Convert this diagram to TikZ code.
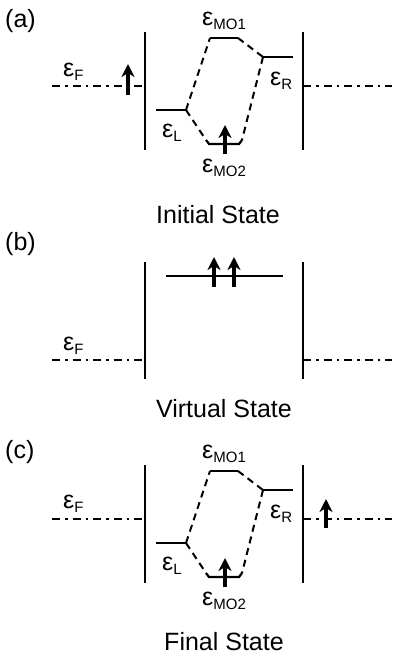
\documentclass[tikz,border=0pt]{standalone}
\usepackage{fontspec}
\setmainfont{Liberation Sans}
\usetikzlibrary{arrows.meta}
\newcommand{\elev}[1]{ε\raisebox{-4pt}{\fontsize{15}{15}\selectfont #1}}
\begin{document}
\begin{tikzpicture}[x=1pt,y=-1pt,
  wall/.style={line width=2.4pt},
  level/.style={line width=2.2pt},
  link/.style={line width=2pt, dash pattern=on 7pt off 5pt},
  fermi/.style={line width=1.8pt, dash pattern=on 8pt off 5pt on 2.5pt off 5pt},
  spin/.style={line width=3.4pt, -{Stealth[length=13pt,width=13pt,inset=4pt]}},
  elab/.style={anchor=base west, inner sep=0pt, font=\fontsize{25}{25}\selectfont},
  ttl/.style={anchor=base, inner sep=0pt, font=\fontsize{25}{25}\selectfont},
  tag/.style={anchor=base west, inner sep=0pt, font=\fontsize{25}{25}\selectfont},
]
\useasboundingbox (0,0) rectangle (392,664);

% ---------- panel (a) ----------
\node[tag] (aTag) at (5,27) {(a)};
\coordinate (aWLt) at (145,32); \coordinate (aWLb) at (145,150);
\coordinate (aWRt) at (303,32); \coordinate (aWRb) at (303,150);
\draw[wall] (aWLt) -- (aWLb);
\draw[wall] (aWRt) -- (aWRb);
\coordinate (aF0) at (52,86); \coordinate (aF1) at (145,86);
\coordinate (aF2) at (303,86); \coordinate (aF3) at (392,86);
\draw[fermi] (aF0) -- (aF1);
\draw[fermi] (aF2) -- (aF3);
\node[elab] (aEF) at (63,76) {\elev{F}};
\coordinate (aS0) at (128,95); \coordinate (aS1) at (128,64);
\draw[spin] (aS0) -- (aS1);
% levels
\coordinate (aLl) at (156,110); \coordinate (aLr) at (186,110);
\coordinate (aM1l) at (210,38); \coordinate (aM1r) at (238,38);
\coordinate (aRl) at (263,57); \coordinate (aRr) at (293,57);
\coordinate (aM2l) at (206,140); \coordinate (aM2r) at (242,140);
\draw[level] (aLl) -- (aLr);
\draw[level] (aM1l) -- (aM1r);
\draw[level] (aRl) -- (aRr);
\draw[level] (aM2l) -- (209,144) -- (239,144) -- (aM2r);
\draw[link] (aLr) -- (aM1l);
\draw[link] (aLr) -- (aM2l);
\draw[link] (aM1r) -- (aRl);
\draw[link] (aRl) -- (aM2r);
\coordinate (aT0) at (225,154); \coordinate (aT1) at (225,125);
\draw[spin] (aT0) -- (aT1);
\node[elab] (aEL) at (162,137) {\elev{L}};
\node[elab] (aEM1) at (202,25) {\elev{MO1}};
\node[elab] (aER) at (270,85) {\elev{R}};
\node[elab] (aEM2) at (202,172) {\elev{MO2}};
\node[ttl] (aTitle) at (218,223) {Initial State};

% ---------- panel (b) ----------
\node[tag] (bTag) at (5,250) {(b)};
\coordinate (bWLt) at (145,262); \coordinate (bWLb) at (145,379);
\coordinate (bWRt) at (303,262); \coordinate (bWRb) at (303,379);
\draw[wall] (bWLt) -- (bWLb);
\draw[wall] (bWRt) -- (bWRb);
\coordinate (bF0) at (52,360); \coordinate (bF1) at (145,360);
\coordinate (bF2) at (303,360); \coordinate (bF3) at (392,360);
\draw[fermi] (bF0) -- (bF1);
\draw[fermi] (bF2) -- (bF3);
\node[elab] (bEF) at (63,350) {\elev{F}};
\coordinate (bV0) at (166,276); \coordinate (bV1) at (283,276);
\draw[level] (bV0) -- (bV1);
\coordinate (bA0) at (214,287); \coordinate (bA1) at (214,257);
\coordinate (bB0) at (234,287); \coordinate (bB1) at (234,257);
\draw[spin] (bA0) -- (bA1);
\draw[spin] (bB0) -- (bB1);
\node[ttl] (bTitle) at (224,417) {Virtual State};

% ---------- panel (c) ----------
\node[tag] (cTag) at (5,458) {(c)};
\coordinate (cWLt) at (145,465); \coordinate (cWLb) at (145,583);
\coordinate (cWRt) at (303,465); \coordinate (cWRb) at (303,583);
\draw[wall] (cWLt) -- (cWLb);
\draw[wall] (cWRt) -- (cWRb);
\coordinate (cF0) at (52,519); \coordinate (cF1) at (145,519);
\coordinate (cF2) at (303,519); \coordinate (cF3) at (392,519);
\draw[fermi] (cF0) -- (cF1);
\draw[fermi] (cF2) -- (cF3);
\node[elab] (cEF) at (63,508) {\elev{F}};
\coordinate (cS0) at (326,528); \coordinate (cS1) at (326,499);
\draw[spin] (cS0) -- (cS1);
\coordinate (cLl) at (156,543); \coordinate (cLr) at (186,543);
\coordinate (cM1l) at (210,471); \coordinate (cM1r) at (238,471);
\coordinate (cRl) at (263,490); \coordinate (cRr) at (293,490);
\coordinate (cM2l) at (206,573); \coordinate (cM2r) at (242,573);
\draw[level] (cLl) -- (cLr);
\draw[level] (cM1l) -- (cM1r);
\draw[level] (cRl) -- (cRr);
\draw[level] (cM2l) -- (209,577) -- (239,577) -- (cM2r);
\draw[link] (cLr) -- (cM1l);
\draw[link] (cLr) -- (cM2l);
\draw[link] (cM1r) -- (cRl);
\draw[link] (cRl) -- (cM2r);
\coordinate (cT0) at (225,587); \coordinate (cT1) at (225,558);
\draw[spin] (cT0) -- (cT1);
\node[elab] (cEL) at (162,570) {\elev{L}};
\node[elab] (cEM1) at (202,458) {\elev{MO1}};
\node[elab] (cER) at (270,518) {\elev{R}};
\node[elab] (cEM2) at (202,605) {\elev{MO2}};
\node[ttl] (cTitle) at (224,650) {Final State};
\end{tikzpicture}
\end{document}
